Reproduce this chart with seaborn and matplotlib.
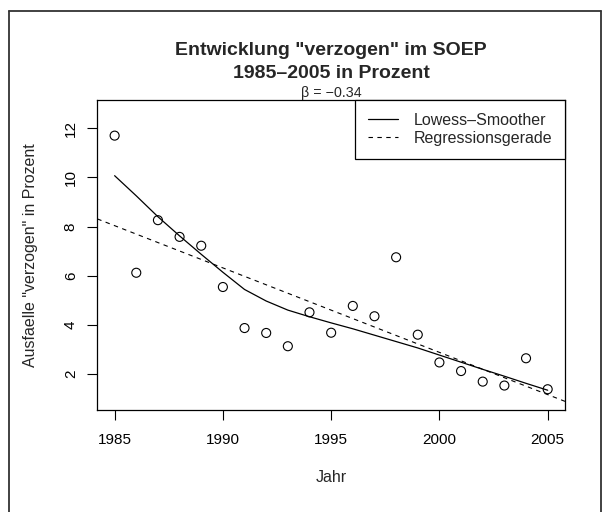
import matplotlib
matplotlib.use("Agg")
import matplotlib.pyplot as plt
from matplotlib.lines import Line2D
import seaborn as sns
import pandas as pd

# ---- data ----
years = list(range(1985, 2006))
pct = [11.70, 6.12, 8.26, 7.58, 7.22, 5.54, 3.87, 3.67, 3.13, 4.51, 3.68,
       4.77, 4.35, 6.75, 3.60, 2.47, 2.12, 1.69, 1.53, 2.64, 1.38]
lowess_vals = [10.07, 9.25, 8.40, 7.62, 6.87, 6.14, 5.44, 4.97, 4.60, 4.33, 4.08,
               3.84, 3.58, 3.32, 3.06, 2.77, 2.48, 2.19, 1.91, 1.62, 1.34]
x_ticks = [1985, 1990, 1995, 2000, 2005]
y_ticks = [2, 4, 6, 8, 10, 12]
title1 = 'Entwicklung "verzogen" im SOEP'
title2 = '1985–2005 in Prozent'
subtitle = 'β = −0.34'
legend_labels = ['Lowess–Smoother', 'Regressionsgerade']

df = pd.DataFrame({"Jahr": years, "pct": pct, "lowess": lowess_vals})

sns.set_style("ticks")
plt.rcParams['font.family'] = ['Liberation Sans', 'DejaVu Sans']

W, H = 609, 512
fig = plt.figure(figsize=(W / 100, H / 100), dpi=100)
L, R, T, B = 97.3, 565, 100, 410
ax = fig.add_axes([L / W, 1 - B / H, (R - L) / W, (B - T) / H])

xlim = (1984.2, 2005.8)
ylim = (0.535, 13.15)
ax.set_xlim(*xlim)
ax.set_ylim(*ylim)

dash = (0, (4, 4))
sns.regplot(data=df, x="Jahr", y="pct", ax=ax, scatter=False, ci=None,
            truncate=False, line_kws=dict(color="black", lw=0.8, linestyle=dash))
sns.lineplot(data=df, x="Jahr", y="lowess", ax=ax, color="black", lw=0.9)
sns.scatterplot(data=df, x="Jahr", y="pct", ax=ax, marker="o", s=42,
                facecolor="none", edgecolor="black", linewidth=0.8)
ax.set_xlim(*xlim)
ax.set_ylim(*ylim)

for s in ax.spines.values():
    s.set_visible(True)
    s.set_color("black")
    s.set_linewidth(0.9)

ax.set_xticks(x_ticks)
ax.set_yticks(y_ticks)
ax.tick_params(axis="both", direction="out", length=7, width=0.8,
               color="black", labelsize=11, labelcolor="black")
ax.tick_params(axis="x", pad=9.5)
ax.tick_params(axis="y", pad=7, labelrotation=90)
for lab in ax.get_yticklabels():
    lab.set_va("center")

ax.set_xlabel("Jahr", fontsize=11.5, va="center")
ax.xaxis.set_label_coords(0.5, (B - 477) / (B - T))
ax.set_ylabel('Ausfaelle "verzogen" in Prozent', fontsize=11.5, va="center")
ax.yaxis.set_label_coords((31 - L) / (R - L), 0.5)

cx = (L + R) / 2 / W
fig.text(cx, 1 - 50.7 / H, title1, ha="center", va="center",
         fontsize=14, fontweight="bold")
fig.text(cx, 1 - 73.3 / H, title2, ha="center", va="center",
         fontsize=14, fontweight="bold")
fig.text(cx, 1 - 92.5 / H, subtitle, ha="center", va="center", fontsize=10.3)

handles = [Line2D([], [], color="black", lw=0.9),
           Line2D([], [], color="black", lw=0.8, linestyle=dash)]
leg = ax.legend(handles, legend_labels, loc="upper right", bbox_to_anchor=(1, 1),
                fontsize=11.5, frameon=True, fancybox=False, borderpad=0.8,
                handlelength=1.9, handletextpad=0.95, labelspacing=0.2,
                borderaxespad=0)
leg.get_frame().set_edgecolor("black")
leg.get_frame().set_linewidth(0.9)
leg.get_frame().set_alpha(1)

# outer figure frame
fr = dict(color="#333333", lw=1.3, transform=fig.transFigure)
x0, x1, y0 = 8.5 / W, 600.5 / W, 1 - 11 / H
fig.add_artist(Line2D([x0, x0], [0, y0], **fr))
fig.add_artist(Line2D([x0, x1], [y0, y0], **fr))
fig.add_artist(Line2D([x1, x1], [0, y0], **fr))

fig.savefig("out.png", dpi=100)
